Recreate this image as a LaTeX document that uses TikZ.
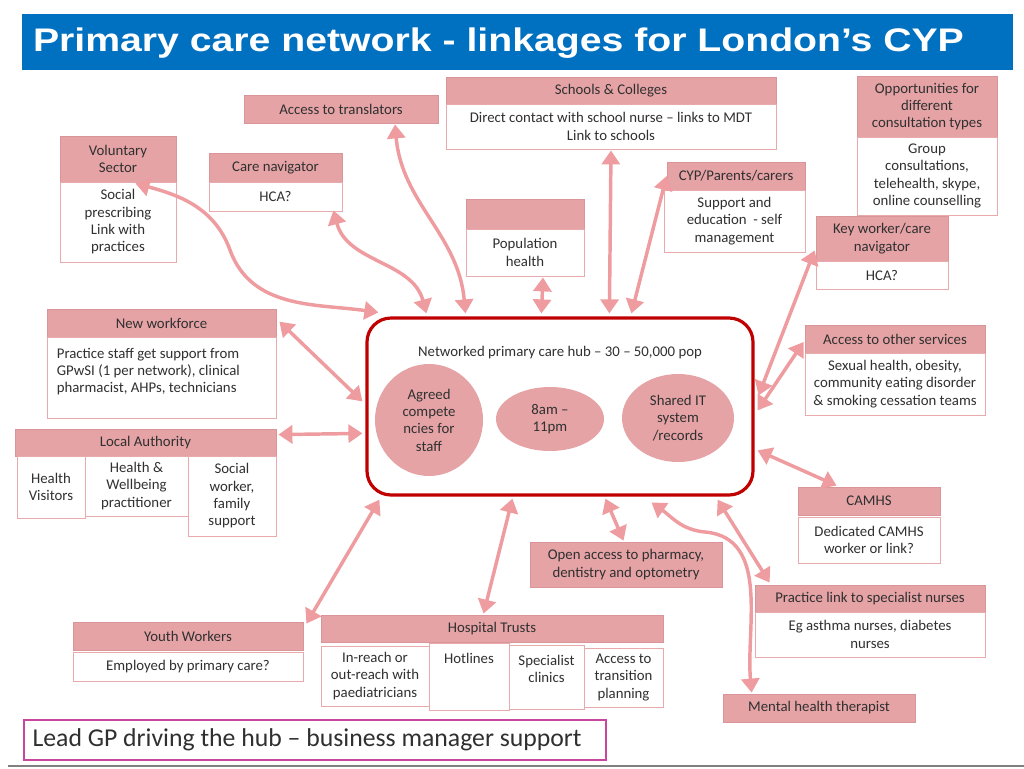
\documentclass[tikz,border=0pt]{standalone}
\usepackage{fontspec}
\setmainfont{Carlito}
\newfontfamily\titlefont{Liberation Sans}
\usetikzlibrary{arrows.meta,calc,shapes.geometric}

\definecolor{hdrpink}{HTML}{E5A3A6}
\definecolor{hdredge}{HTML}{D9959A}
\definecolor{celledge}{HTML}{E8AAAD}
\definecolor{linkpink}{HTML}{EE9CA0}
\definecolor{hubred}{HTML}{C00000}
\definecolor{barblue}{HTML}{0070C0}
\definecolor{txt}{HTML}{303030}
\definecolor{leadedge}{HTML}{C8479E}

\tikzset{
  boxfont/.style={font=\fontsize{11.1}{13}\selectfont},
  hdr/.style={draw=hdredge, fill=hdrpink, line width=0.6pt, inner sep=0pt, align=center, text=txt, boxfont},
  cell/.style={draw=celledge, fill=white, line width=0.6pt, inner sep=0pt, align=center, text=txt, boxfont},
  blob/.style={ellipse, fill=hdrpink, inner sep=0pt, align=center, text=txt, boxfont},
  toptext/.style={anchor=north, text=txt, boxfont, inner sep=0pt, align=center, yshift=-7.5pt},
  link/.style={draw=linkpink, line width=2.6pt,
    {Triangle[length=10.5pt,width=13.5pt]}-{Triangle[length=10.5pt,width=13.5pt]}},
}

\begin{document}
\begin{tikzpicture}[x=0.75pt,y=-0.75pt]
  \useasboundingbox (0,0) rectangle (1024,768);

  % title bar
  \node[fill=barblue, inner sep=0pt, minimum width=743.25pt, minimum height=42pt] (bar) at (517.5,42) {};
  \node[anchor=west, text=white, inner sep=0pt,
    font=\titlefont\bfseries\fontsize{24.5}{29}\selectfont] (title)
    at ($(bar.west)+(11,1)$) {\scalebox{1.2}[1]{Primary care network - linkages for London’s CYP}};

  % top row
  \node[hdr, minimum width=145.5pt, minimum height=21pt] (trans) at (341,109) {Access to translators};
  \node[hdr, minimum width=247.5pt, minimum height=20.25pt] (schh) at (611,90.5) {Schools \& Colleges};
  \node[cell, minimum width=247.5pt, minimum height=33.75pt] (schb) at (611,126.5) {Direct contact with school nurse – links to MDT\\Link to schools};
  \node[hdr, minimum width=105pt, minimum height=45.75pt] (opph) at (927,106.5) {Opportunities for\\different\\consultation types};
  \node[cell, minimum width=105pt, minimum height=58.5pt] (oppb) at (927,176) {Group\\consultations,\\telehealth, skype,\\online counselling};
  \node[hdr, minimum width=87pt, minimum height=34.5pt] (volh) at (118,159) {Voluntary\\Sector};
  \node[cell, minimum width=87pt, minimum height=60pt] (volb) at (118,222) {Social\\prescribing\\Link with\\practices};
  \node[hdr, minimum width=99.75pt, minimum height=21.75pt] (carh) at (275.5,167.5) {Care navigator};
  \node[cell, minimum width=99.75pt, minimum height=21.75pt] (carb) at (275.5,196.5) {HCA?};
  \node[hdr, minimum width=88.5pt, minimum height=22.5pt] (poph) at (525,214) {};
  \node[cell, minimum width=88.5pt, minimum height=35.25pt] (popb) at (525,252.5) {Population\\health};
  \node[hdr, minimum width=103.5pt, minimum height=21pt] (cyph) at (736,176) {CYP/Parents/carers};
  \node[cell, minimum width=105.75pt, minimum height=46.5pt] (cypb) at (734.5,221) {Support and\\education~~- self\\management};
  \node[hdr, minimum width=99pt, minimum height=33.75pt] (keyh) at (882,238.5) {Key worker/care\\navigator};
  \node[cell, minimum width=99pt, minimum height=21pt] (keyb) at (882,275) {HCA?};

  % left side
  \node[hdr, minimum width=171.75pt, minimum height=21pt] (nwh) at (161.5,323) {New workforce};
  \node[cell, minimum width=171.75pt, minimum height=60.75pt] (nwb) at (161.5,377.5) {};
  \node[anchor=north west, align=left, text=txt, boxfont, inner sep=0pt] (nwtext)
    at ($(nwb.north west)+(10,11)$) {Practice staff get support from\\GPwSI (1 per network), clinical\\pharmacist, AHPs, technicians};
  \node[hdr, minimum width=195.75pt, minimum height=20.25pt] (lah) at (145.5,442.5) {Local Authority};
  \node[cell, minimum width=51pt, minimum height=46.5pt] (la1) at (51,487) {Health\\Visitors};
  \node[cell, minimum width=77.25pt, minimum height=45pt] (la2) at (136.5,486) {Health \&\\Wellbeing\\practitioner};
  \node[cell, minimum width=66pt, minimum height=60pt] (la3) at (232,496) {Social\\worker,\\family\\support};

  % hub
  \node[draw=hubred, line width=2.4pt, rounded corners=18pt, inner sep=0pt,
    minimum width=289.5pt, minimum height=132.75pt] (hub) at (560,406.5) {};
  \node[text=txt, boxfont] (hubtitle) at ($(hub.north)+(0,36)$) {Networked primary care hub – 30 – 50,000 pop};
  \node[blob, minimum width=81pt, minimum height=84pt] (agreed) at (429,420) {Agreed\\compete\\ncies for\\staff};
  \node[blob, minimum width=81pt, minimum height=48pt] (hours) at (550,419) {8am –\\11pm};
  \node[blob, minimum width=84pt, minimum height=66pt] (shared) at (678,418) {Shared IT\\system\\/records};

  % right side
  \node[hdr, minimum width=135pt, minimum height=21pt] (othh) at (895,339) {Access to other services};
  \node[cell, minimum width=135pt, minimum height=46.5pt] (othb) at (895,384) {Sexual health, obesity,\\community eating disorder\\\& smoking cessation teams};
  \node[hdr, minimum width=106.5pt, minimum height=21pt] (camh) at (869,501) {CAMHS};
  \node[cell, minimum width=106.5pt, minimum height=34.5pt] (camb) at (869,540) {Dedicated CAMHS\\worker or link?};
  \node[hdr, minimum width=172.5pt, minimum height=20.25pt] (prah) at (870,598.5) {Practice link to specialist nurses};
  \node[cell, minimum width=172.5pt, minimum height=33.75pt] (prab) at (870,634.5) {Eg asthma nurses, diabetes\\nurses};
  \node[hdr, minimum width=144pt, minimum height=21pt] (ment) at (819,708) {Mental health therapist};

  % bottom row
  \node[hdr, minimum width=144pt, minimum height=33.75pt] (open) at (626,564.5) {Open access to pharmacy,\\dentistry and optometry};
  \node[hdr, minimum width=172.5pt, minimum height=21pt] (youthh) at (188,636) {Youth Workers};
  \node[cell, minimum width=172.5pt, minimum height=21.75pt] (youthb) at (188,666.5) {Employed by primary care?};
  \node[hdr, minimum width=256.5pt, minimum height=20.25pt] (hosph) at (492,628.5) {Hospital Trusts};
  \node[cell, minimum width=81pt, minimum height=45pt] (hos1) at (375,676) {In-reach or\\out-reach with\\paediatricians};
  \node[cell, minimum width=60pt, minimum height=50.25pt] (hos2) at (469,676.5) {};
  \node[toptext] (hotl) at (hos2.north) {Hotlines};
  \node[cell, minimum width=56.25pt, minimum height=48pt] (hos3) at (546.5,677) {};
  \node[toptext] (spec) at (hos3.north) {Specialist\\clinics};
  \node[cell, minimum width=59.25pt, minimum height=44.25pt] (hos4) at (623.5,677.5) {Access to\\transition\\planning};

  \node[draw=leadedge, line width=1pt, inner sep=0pt, minimum width=436.5pt, minimum height=30pt] (lead) at (315,740) {};
  \node[anchor=west, text=txt, inner sep=0pt, font=\fontsize{19.3}{23}\selectfont] (leadtext)
    at ($(lead.west)+(9,0)$) {Lead GP driving the hub – business manager support};
  \draw[gray, line width=2.2pt] (8,766) -- (1024,766);

  % links to the hub
  \draw[link] ($(volh.south east)+(-41,1)$) to[out=-15,in=110] (230,250) to[out=-70,in=172] ($(hub.north west)+(13,-4)$);
  \draw[link] ($(carb.south east)+(-9,-1)$) to[out=-75,in=105] ($(hub.north west)+(61,-3)$);
  \draw[link] ($(trans.south)+(54,1)$) to[out=-85,in=95] ($(hub.north west)+(100,-3)$);
  \draw[link] ($(popb.south)+(18,1)$) -- ($(hub.north west)+(176,-3)$);
  \draw[link] ($(schb.south)+(0,1)$) -- ($(hub.north west)+(244,-3)$);
  \draw[link] (cyph.west) -- ($(hub.north west)+(266,-3)$);
  \draw[link] ($(keyh.south west)+(-1,-11)$) -- ($(hub.north east)+(4,79)$);
  \draw[link] ($(othh.west)+(-1,3)$) -- ($(hub.north east)+(3,94)$);
  \draw[link] ($(hub.north east)+(3,134)$) -- ($(camh.north west)+(39,-1)$);
  \draw[link] ($(hub.south east)+(-37,3)$) -- ($(prah.north west)+(15,-2)$);
  \draw[link] ($(hub.south east)+(-103,6)$) to[out=-35,in=175] (705,532) to[out=-5,in=95] ($(ment.north west)+(29,-1)$);
  \draw[link] ($(hub.south west)+(240,2)$) -- ($(open.north west)+(94,-1)$);
  \draw[link] ($(hub.south west)+(147,2)$) -- ($(hosph.north west)+(163,-1)$);
  \draw[link] ($(hub.south west)+(14,3)$) -- ($(youthh.north east)+(3,2)$);
  \draw[link] ($(lah.north east)+(2,6)$) -- ($(hub.north west)+(-3,117)$);
  \draw[link] ($(nwh.north east)+(3,13)$) -- ($(hub.north west)+(-3,85)$);
\end{tikzpicture}
\end{document}
